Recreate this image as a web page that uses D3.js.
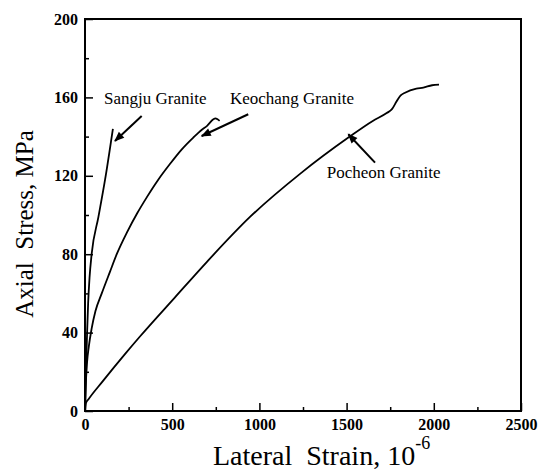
<!DOCTYPE html>
<html>
<head>
<meta charset="utf-8">
<script src="https://cdn.jsdelivr.net/npm/d3@7"></script>
<style>
  body { margin: 0; background: #fff; }
  svg { display: block; }
  text { font-family: "Liberation Serif", "Times New Roman", serif; fill: #000; }
</style>
</head>
<body>
<div id="app"></div>
<script>
const width = 543
const height = 470
const margin = {top: 19, right: 22, bottom: 60, left: 85}

// data: [lateral strain (1e-6), axial stress (MPa)]
const sangju = [[0, 0], [3, 10], [7, 25], [12, 40], [18, 55], [26, 68], [38, 80], [77, 99], [115, 118], [160, 144]]
const keochang = [[0, 0], [4, 12], [12, 25], [22, 33], [38, 42], [60, 51], [96, 60], [143, 71], [182, 80], [240, 91], [300, 101], [354, 109], [420, 118], [487, 126], [550, 133], [621, 139.5], [670, 143.5], [700, 145.5], [736, 148.8], [748, 149.3], [760, 148.8], [772, 148]]
const pocheon = [[0, 0], [5, 4], [20, 6], [100, 15], [229, 29], [315, 38], [516, 58], [698, 76], [946, 99], [1233, 121], [1510, 139.5], [1650, 148], [1730, 152], [1760, 154], [1787, 158], [1810, 161], [1835, 162.4], [1900, 164.5], [1940, 165], [1990, 166.2], [2030, 166.5]]
const seriesNames = ['Sangju Granite', 'Keochang Granite', 'Pocheon Granite']
const seriesData = [sangju, keochang, pocheon]

const xMajor = [0, 500, 1000, 1500, 2000, 2500]
const xMinor = [250, 750, 1250, 1750, 2250]
const yMajor = [0, 40, 80, 120, 160, 200]
const yMinor = [20, 60, 100, 140, 180]

// label anchor [x, y] and arrow tail/head, in data units
const labelPos = [[109, 156.6], [831, 156.6], [1386, 118.9]]
const arrowTail = [[325, 150.5], [936, 151.4], [1663, 126.7]]
const arrowHead = [[172, 137.8], [669, 140.3], [1510, 141.2]]

const x = d3.scaleLinear().domain([0, 2500]).range([margin.left, width - margin.right])
const y = d3.scaleLinear().domain([0, 200]).range([height - margin.bottom + 1, margin.top])

const svg = d3.select('#app').append('svg')
    .attr('width', width)
    .attr('height', height)

svg.append('defs').append('marker')
    .attr('id', 'arrow')
    .attr('viewBox', '0 0 10 10')
    .attr('refX', 9)
    .attr('refY', 5)
    .attr('markerWidth', 5.5)
    .attr('markerHeight', 5)
    .attr('markerUnits', 'strokeWidth')
    .attr('orient', 'auto')
  .append('path')
    .attr('d', 'M0,1 L10,5 L0,9 Z')
    .attr('fill', '#000')

const yBase = y(0)

// minor ticks
svg.append('g')
    .attr('transform', `translate(0,${yBase})`)
    .call(d3.axisBottom(x).tickValues(xMinor).tickSize(-4).tickFormat(''))
svg.append('g')
    .attr('transform', `translate(${x(0)},0)`)
    .call(d3.axisLeft(y).tickValues(yMinor).tickSize(-4).tickFormat(''))

// major ticks + labels
svg.append('g')
    .attr('transform', `translate(0,${yBase})`)
    .call(d3.axisBottom(x).tickValues(xMajor).tickSize(-8).tickPadding(8).tickFormat(d3.format('d')))
svg.append('g')
    .attr('transform', `translate(${x(0)},0)`)
    .call(d3.axisLeft(y).tickValues(yMajor).tickSize(-8).tickPadding(7).tickFormat(d3.format('d')))

svg.selectAll('.domain').remove()
svg.selectAll('.tick line').attr('stroke', '#000').attr('stroke-width', 1.5)
svg.selectAll('.tick text')
    .style('font-family', '"Liberation Serif", serif')
    .style('font-size', '16px')
    .style('font-weight', 'bold')

// frame
svg.append('rect')
    .attr('x', x(0))
    .attr('y', y(200))
    .attr('width', x(2500) - x(0))
    .attr('height', y(0) - y(200))
    .attr('fill', 'none')
    .attr('stroke', '#000')
    .attr('stroke-width', 2)

// curves
const line = d3.line()
    .x(d => x(d[0]))
    .y(d => y(d[1]))
    .curve(d3.curveMonotoneX)

svg.append('g').selectAll('path')
    .data(seriesData)
    .join('path')
    .attr('d', line)
    .attr('fill', 'none')
    .attr('stroke', '#000')
    .attr('stroke-width', 1.8)

// annotations
svg.append('g').selectAll('text')
    .data(seriesNames)
    .join('text')
    .attr('x', (d, i) => x(labelPos[i][0]))
    .attr('y', (d, i) => y(labelPos[i][1]))
    .style('font-size', '17px')
    .text(d => d)

svg.append('g').selectAll('line')
    .data(seriesNames)
    .join('line')
    .attr('x1', (d, i) => x(arrowTail[i][0]))
    .attr('y1', (d, i) => y(arrowTail[i][1]))
    .attr('x2', (d, i) => x(arrowHead[i][0]))
    .attr('y2', (d, i) => y(arrowHead[i][1]))
    .attr('stroke', '#000')
    .attr('stroke-width', 2)
    .attr('marker-end', 'url(#arrow)')

// axis titles
const xt = svg.append('text')
    .attr('x', 213)
    .attr('y', 465)
    .style('font-size', '28px')
xt.append('tspan').text('Lateral\u00a0\u00a0Strain, 10')
xt.append('tspan').attr('dy', -16).style('font-size', '18px').text('-6')

svg.append('text')
    .attr('transform', 'translate(33,224) rotate(-90)')
    .attr('text-anchor', 'middle')
    .style('font-size', '25px')
    .text('Axial\u00a0\u00a0Stress, MPa')
</script>
</body>
</html>
